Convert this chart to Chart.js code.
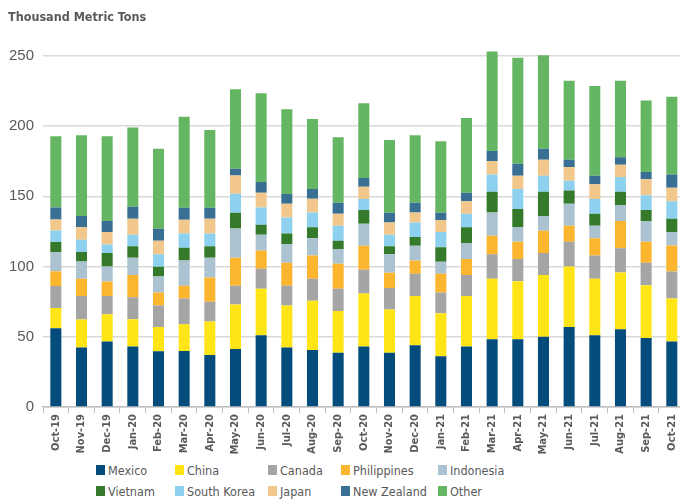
<!DOCTYPE html>
<html>
<head>
<meta charset="utf-8">
<script src="https://cdn.jsdelivr.net/npm/chart.js@4"></script>
<style>
  html, body { margin: 0; padding: 0; background: #fff; overflow: hidden; }
  #wrap { position: relative; width: 686px; height: 500px; }
  #box { position: absolute; left: 0; top: 0; width: 686px; height: 455px; }
  #legend {
    position: absolute; left: 96px; top: 462px;
    display: grid; grid-template-columns: 79px 93px 73px 97px 120px;
    row-gap: 5px;
    font-family: 'Liberation Sans Narrow', 'DejaVu Sans Condensed', sans-serif;
    font-size: 12.5px; color: #595959;
  }
  #legend div { display: flex; align-items: center; height: 16px; white-space: nowrap; }
  #legend span.sq { display: inline-block; width: 9px; height: 10px; margin-right: 3px; }
</style>
</head>
<body>
<div id="wrap">
  <div id="box"><canvas id="chart"></canvas></div>
  <div id="legend"></div>
</div>
<script>
// mesi (asse x)
const months = ['Oct-19','Nov-19','Dec-19','Jan-20','Feb-20','Mar-20','Apr-20','May-20','Jun-20','Jul-20',
  'Aug-20','Sep-20','Oct-20','Nov-20','Dec-20','Jan-21','Feb-21','Mar-21','Apr-21','May-21',
  'Jun-21','Jul-21','Aug-21','Sep-21','Oct-21'];

// valori per paese (migliaia di tonnellate)
const mexico      = [56.1, 42.3, 46.6, 43.0, 39.7, 39.9, 37.1, 41.3, 51.1, 42.3, 40.6, 38.7, 43.0, 38.7, 44.0, 36.1, 43.0, 48.2, 48.2, 50.1, 57.0, 51.1, 55.4, 49.2, 46.6];
const china       = [14.3, 20.0, 19.5, 19.5, 17.3, 19.0, 23.7, 31.7, 33.0, 29.9, 35.0, 29.7, 37.8, 30.7, 35.1, 30.7, 36.1, 43.1, 41.4, 43.8, 43.0, 40.2, 40.4, 37.5, 30.6];
const canada      = [15.7, 16.8, 13.0, 15.7, 15.2, 18.3, 14.1, 13.3, 14.3, 14.1, 15.7, 15.7, 16.9, 15.4, 15.7, 14.7, 14.8, 17.5, 15.7, 15.7, 17.6, 16.6, 17.3, 16.0, 19.3];
const philippines = [10.5, 12.2, 10.3, 15.7, 9.3, 9.1, 17.3, 19.9, 13.1, 16.4, 16.6, 17.8, 17.1, 10.7, 9.5, 13.3, 11.4, 13.1, 12.3, 15.9, 11.4, 12.3, 19.3, 14.9, 18.5];
const indonesia   = [13.8, 12.3, 10.6, 12.3, 11.4, 18.0, 14.0, 20.9, 11.1, 13.3, 12.3, 10.5, 15.7, 13.3, 10.5, 8.6, 11.4, 16.6, 10.5, 10.4, 15.7, 8.8, 11.4, 14.8, 9.5];
const vietnam     = [7.1, 6.7, 9.6, 8.3, 6.9, 9.1, 8.3, 11.2, 7.2, 7.6, 7.7, 5.9, 9.7, 5.7, 6.2, 10.4, 11.2, 14.8, 12.8, 17.4, 9.5, 8.6, 9.5, 7.8, 9.5];
const southKorea  = [8.1, 8.8, 6.1, 8.1, 9.0, 10.2, 9.1, 13.6, 12.3, 11.4, 10.6, 10.7, 7.9, 8.1, 10.4, 10.7, 9.7, 12.3, 14.3, 11.4, 6.9, 10.5, 10.4, 10.5, 12.4];
const japan       = [7.8, 8.8, 8.8, 11.4, 9.5, 9.7, 10.4, 13.0, 10.5, 9.7, 9.8, 8.6, 8.7, 8.8, 7.1, 8.6, 8.8, 9.5, 9.5, 11.4, 9.8, 10.4, 8.8, 11.4, 9.7];
const newZealand  = [8.6, 8.0, 7.9, 8.6, 8.6, 8.6, 7.9, 4.8, 7.6, 6.9, 6.9, 7.8, 6.2, 6.9, 6.9, 5.2, 6.2, 7.2, 8.5, 7.8, 5.2, 6.2, 5.3, 5.2, 9.5];
const other       = [50.8, 57.5, 60.3, 56.3, 57.0, 64.8, 55.3, 56.5, 63.2, 60.4, 49.9, 46.6, 53.3, 51.8, 48.0, 50.9, 53.2, 70.8, 75.4, 66.6, 56.1, 63.9, 54.4, 50.9, 55.2];

const yTicks = [0, 50, 100, 150, 200, 250];

const FONT = "'Liberation Sans Narrow', 'DejaVu Sans Condensed', sans-serif";
const GREY = '#595959';

const series = [
  { label: 'Mexico',      data: mexico,      color: '#034c7b' },
  { label: 'China',       data: china,       color: '#ffe515' },
  { label: 'Canada',      data: canada,      color: '#a5a5a5' },
  { label: 'Philippines', data: philippines, color: '#fbb52e' },
  { label: 'Indonesia',   data: indonesia,   color: '#abc3d1' },
  { label: 'Vietnam',     data: vietnam,     color: '#357a2b' },
  { label: 'South Korea', data: southKorea,  color: '#8dd1ef' },
  { label: 'Japan',       data: japan,       color: '#f2c78b' },
  { label: 'New Zealand', data: newZealand,  color: '#386f93' },
  { label: 'Other',       data: other,       color: '#64b662' }
];

const ctx = document.getElementById('chart').getContext('2d');
const myChart = new Chart(ctx, {
  type: 'bar',
  data: {
    labels: months,
    datasets: series.map(s => ({
      label: s.label,
      data: s.data,
      backgroundColor: s.color,
      borderWidth: 0,
      barPercentage: 0.43,
      categoryPercentage: 1
    }))
  },
  options: {
    responsive: true,
    maintainAspectRatio: false,
    animation: false,
    layout: { padding: { left: 8, right: 0, top: 0, bottom: 0 } },
    plugins: {
      legend: { display: false },
      tooltip: { enabled: false },
      title: {
        display: true,
        text: 'Thousand Metric Tons',
        align: 'start',
        color: GREY,
        font: { family: FONT, size: 12.5, weight: 'bold', lineHeight: 1.3 },
        padding: { top: 10, bottom: 1.5 }
      }
    },
    scales: {
      x: {
        stacked: true,
        offset: true,
        grid: {
          offset: true,
          drawOnChartArea: false,
          drawTicks: true,
          tickLength: 6,
          color: '#bfbfbf',
          lineWidth: 1
        },
        border: { display: true, color: '#bfbfbf', width: 1.5 },
        ticks: {
          color: GREY,
          font: { family: FONT, size: 11, weight: 'bold' },
          minRotation: 90,
          maxRotation: 90,
          padding: 1,
          autoSkip: false
        },
        afterFit: function (scale) { scale.height = 48; }
      },
      y: {
        stacked: true,
        min: 0,
        max: 270,
        grid: { color: '#d9d9d9', lineWidth: 1.5, drawTicks: false },
        border: { display: false },
        ticks: {
          stepSize: 50,
          color: GREY,
          padding: 9,
          font: { family: "'Liberation Sans', Arial, sans-serif", size: 15 }
        },
        afterBuildTicks: function (scale) {
          scale.ticks = yTicks.map(v => ({ value: v }));
        },
        afterFit: function (scale) { scale.width = 35; }
      }
    }
  }
});

// legenda HTML a griglia (5 colonne, 2 righe)
const leg = document.getElementById('legend');
myChart.data.datasets.forEach(function (ds) {
  const item = document.createElement('div');
  item.innerHTML = '<span class="sq" style="background:' + ds.backgroundColor + '"></span>' + ds.label;
  leg.appendChild(item);
});
</script>
</body>
</html>
